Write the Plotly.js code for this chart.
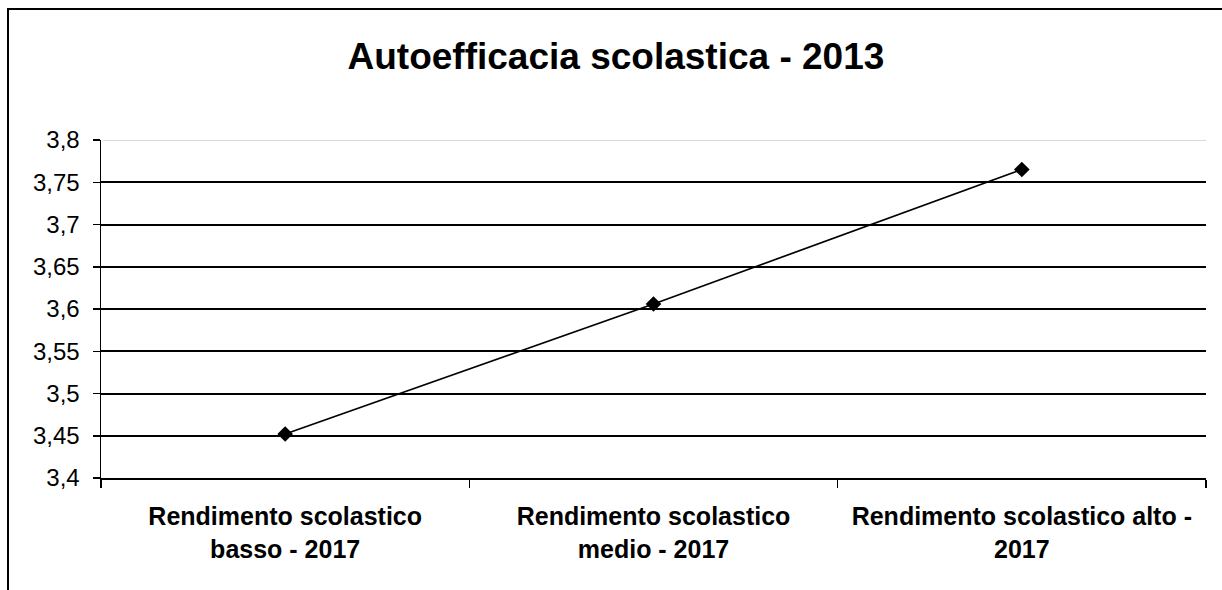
<!DOCTYPE html>
<html>
<head>
<meta charset="utf-8">
<script src="https://cdn.plot.ly/plotly-3.0.1.min.js"></script>
<style>
  html, body { margin: 0; padding: 0; background: #fff; overflow: hidden; }
  #chart { width: 1222px; height: 590px; position: absolute; left: 0; top: 0; }
  #frame { position: absolute; left: 7px; top: 8px; width: 1400px; height: 800px;
           border: 2px solid #000; pointer-events: none; }
</style>
</head>
<body>
<div id="chart"></div>
<div id="frame"></div>
<script>
const chartTitle = 'Autoefficacia scolastica - 2013';
const categories = [
  'Rendimento scolastico<br>basso - 2017',
  'Rendimento scolastico<br>medio - 2017',
  'Rendimento scolastico alto -<br>2017'
];
const values = [3.452, 3.606, 3.765];
const yTickVals = [3.4, 3.45, 3.5, 3.55, 3.6, 3.65, 3.7, 3.75, 3.8];
const yTickText = ['3,4', '3,45', '3,5', '3,55', '3,6', '3,65', '3,7', '3,75', '3,8'];

const FONT = 'Liberation Sans, Arial, Helvetica, sans-serif';

const trace = {
  type: 'scatter',
  mode: 'lines+markers',
  x: categories,
  y: values,
  line: { color: '#000', width: 1.7 },
  marker: { symbol: 'diamond', size: 12, color: '#000' },
  hoverinfo: 'x+y'
};

const layout = {
  width: 1222,
  height: 590,
  margin: { l: 101, r: 16, t: 140, b: 112, pad: 0 },
  paper_bgcolor: '#fff',
  plot_bgcolor: '#fff',
  showlegend: false,
  font: { family: FONT, color: '#000' },
  title: {
    text: chartTitle,
    font: { family: FONT, size: 37, weight: 'bold', color: '#000' },
    xref: 'paper', x: 0.466, xanchor: 'center',
    yref: 'container', y: 0.905, yanchor: 'middle'
  },
  xaxis: {
    type: 'category',
    range: [-0.5, 2.5],
    tickson: 'boundaries',
    ticks: 'outside',
    ticklen: 8,
    tickwidth: 1.5,
    tickcolor: '#000',
    showline: true,
    linecolor: '#000',
    linewidth: 2,
    showgrid: false,
    zeroline: false,
    tickfont: { family: FONT, size: 25, weight: 'bold', color: '#000' },
    ticklabelstandoff: 15,
    fixedrange: true
  },
  yaxis: {
    range: [3.4, 3.8],
    tickmode: 'array',
    tickvals: yTickVals,
    ticktext: yTickText,
    ticks: 'outside',
    ticklen: 7,
    tickwidth: 1.5,
    tickcolor: '#000',
    showline: true,
    linecolor: '#000',
    linewidth: 1.5,
    showgrid: true,
    gridcolor: '#000',
    gridwidth: 2,
    zeroline: false,
    tickfont: { family: FONT, size: 24, color: '#000' },
    ticklabelstandoff: 8,
    fixedrange: true
  },
  shapes: [
    { type: 'line', xref: 'paper', yref: 'y', x0: 0.002, x1: 1, y0: 3.8, y1: 3.8,
      line: { color: '#d9d9d9', width: 2 }, layer: 'above' }
  ]
};

Plotly.newPlot('chart', [trace], layout, { displayModeBar: false, staticPlot: true });
</script>
</body>
</html>
